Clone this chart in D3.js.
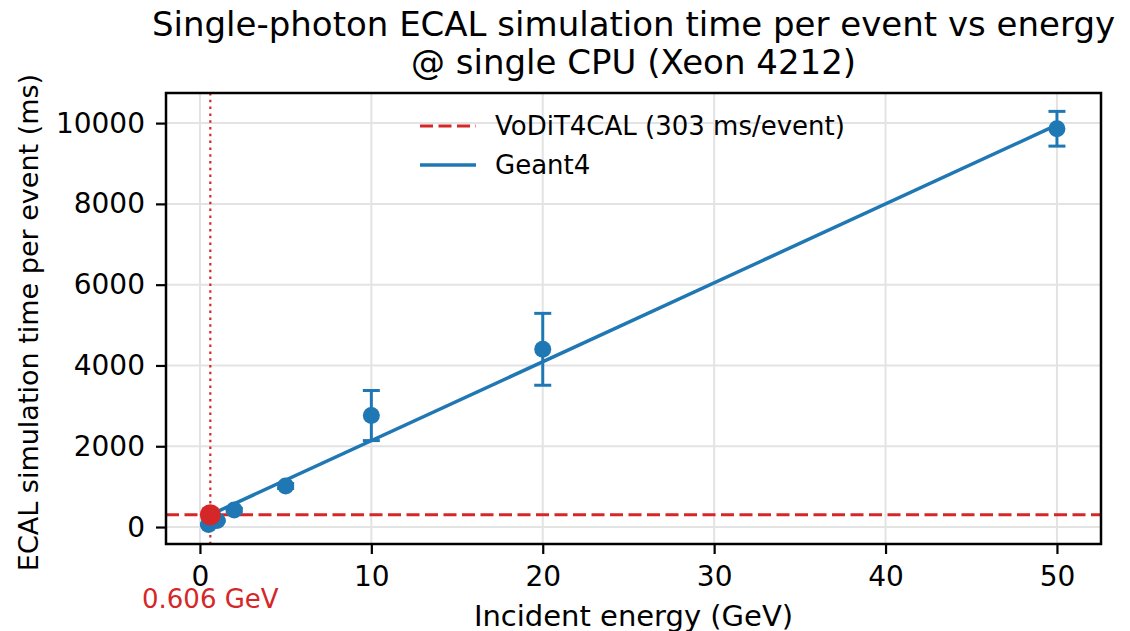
<!DOCTYPE html>
<html>
<head>
<meta charset="utf-8">
<script src="https://cdn.jsdelivr.net/npm/d3@7"></script>
<style>
  body { margin: 0; background: #fff; }
  text { font-family: "DejaVu Sans", sans-serif; }
</style>
</head>
<body>
<svg width="1130" height="631"></svg>
<script>
// data
const energies = [0.5, 1, 2, 5, 10, 20, 50];          // GeV
const times = [60, 160, 420, 1015, 2760, 4400, 9860];  // ms per event
const errors = [15, 25, 40, 60, 620, 890, 430];
const fitX = [0.5, 50];
const fitY = [282, 9954];
const vodiTime = 303;       // ms/event
const crossEnergy = 0.606;  // GeV
const xTicks = [0, 10, 20, 30, 40, 50];
const yTicks = [0, 2000, 4000, 6000, 8000, 10000];

const blue = '#1f77b4';
const red = '#d62728';

const svg = d3.select('svg');
const margin = {top: 93, right: 29, bottom: 87, left: 166};
const width = +svg.attr('width');
const height = +svg.attr('height');
const innerWidth = width - margin.left - margin.right;
const innerHeight = height - margin.top - margin.bottom;

const x = d3.scaleLinear().domain([-1.98, 52.57]).range([0, innerWidth]);
const y = d3.scaleLinear().domain([-420, 10745]).range([innerHeight, 0]);

const g = svg.append('g').attr('transform', `translate(${margin.left},${margin.top})`);

// clip for the stuff inside the axes
g.append('clipPath').attr('id', 'clip')
  .append('rect').attr('width', innerWidth).attr('height', innerHeight);

// grid
g.append('g').selectAll('line').data(xTicks).enter().append('line')
  .attr('x1', d => x(d)).attr('x2', d => x(d))
  .attr('y1', 0).attr('y2', innerHeight)
  .attr('stroke', '#e3e3e3').attr('stroke-width', 2);
g.append('g').selectAll('line').data(yTicks).enter().append('line')
  .attr('y1', d => y(d)).attr('y2', d => y(d))
  .attr('x1', 0).attr('x2', innerWidth)
  .attr('stroke', '#e3e3e3').attr('stroke-width', 2);

const plot = g.append('g').attr('clip-path', 'url(#clip)');

// VoDiT4CAL horizontal line
plot.append('line')
  .attr('x1', 0).attr('x2', innerWidth)
  .attr('y1', y(vodiTime)).attr('y2', y(vodiTime))
  .attr('stroke', red).attr('stroke-width', 3)
  .attr('stroke-dasharray', '13,5.5');

// vertical dotted line at crossing energy
plot.append('line')
  .attr('x1', x(crossEnergy)).attr('x2', x(crossEnergy))
  .attr('y1', 0).attr('y2', innerHeight)
  .attr('stroke', red).attr('stroke-width', 2.2)
  .attr('stroke-dasharray', '2.5,4.3');

// Geant4 fit line
const fitData = fitX.map((d, i) => ({x: d, y: fitY[i]}));
plot.append('path')
  .datum(fitData)
  .attr('fill', 'none')
  .attr('stroke', blue)
  .attr('stroke-width', 3.5)
  .attr('d', d3.line().x(d => x(d.x)).y(d => y(d.y)));

// error bars + points
const pts = energies.map((e, i) => ({e: e, t: times[i], err: errors[i]}));
const eb = plot.append('g').selectAll('g').data(pts).enter().append('g')
  .attr('stroke', blue).attr('stroke-width', 3);
eb.append('line')
  .attr('x1', d => x(d.e)).attr('x2', d => x(d.e))
  .attr('y1', d => y(d.t - d.err)).attr('y2', d => y(d.t + d.err));
eb.append('line')
  .attr('x1', d => x(d.e) - 8.5).attr('x2', d => x(d.e) + 8.5)
  .attr('y1', d => y(d.t + d.err)).attr('y2', d => y(d.t + d.err));
eb.append('line')
  .attr('x1', d => x(d.e) - 8.5).attr('x2', d => x(d.e) + 8.5)
  .attr('y1', d => y(d.t - d.err)).attr('y2', d => y(d.t - d.err));

plot.append('g').selectAll('circle').data(pts).enter().append('circle')
  .attr('cx', d => x(d.e)).attr('cy', d => y(d.t))
  .attr('r', 8.5).attr('fill', blue);

// crossing point
plot.append('circle')
  .attr('cx', x(crossEnergy)).attr('cy', y(vodiTime))
  .attr('r', 10.5).attr('fill', red);

// axes
const xAxis = g.append('g')
  .attr('transform', `translate(0,${innerHeight})`)
  .call(d3.axisBottom(x).tickValues(xTicks).tickSize(10).tickPadding(12));
const yAxis = g.append('g')
  .call(d3.axisLeft(y).tickValues(yTicks).tickFormat(d3.format('d')).tickSize(10).tickPadding(11));
[xAxis, yAxis].forEach(a => {
  a.select('.domain').remove();
  a.selectAll('.tick line').attr('stroke', '#000').attr('stroke-width', 2.2);
  a.selectAll('.tick text').attr('fill', '#000').style('font-size', '28px')
    .style('font-family', '"DejaVu Sans", sans-serif');
});

// frame
g.append('rect')
  .attr('width', innerWidth).attr('height', innerHeight)
  .attr('fill', 'none').attr('stroke', '#000').attr('stroke-width', 2.5);

// red energy label below the ticks
g.append('text')
  .attr('x', x(crossEnergy)).attr('y', 515)
  .attr('text-anchor', 'middle')
  .attr('fill', red).style('font-size', '26px')
  .text(crossEnergy + ' GeV');

// axis labels
g.append('text')
  .attr('x', innerWidth / 2).attr('y', 533)
  .attr('text-anchor', 'middle').style('font-size', '29px')
  .text('Incident energy (GeV)');
g.append('text')
  .attr('transform', `translate(${-128},${innerHeight / 2 + 4}) rotate(-90)`)
  .attr('text-anchor', 'middle').style('font-size', '27px')
  .text('ECAL simulation time per event (ms)');

// title
svg.append('text')
  .attr('x', margin.left + innerWidth / 2).attr('y', 36)
  .attr('text-anchor', 'middle').style('font-size', '34px')
  .text('Single-photon ECAL simulation time per event vs energy');
svg.append('text')
  .attr('x', margin.left + innerWidth / 2).attr('y', 74)
  .attr('text-anchor', 'middle').style('font-size', '34px')
  .text('@ single CPU (Xeon 4212)');

// legend
const legendItems = [
  {label: 'VoDiT4CAL (' + vodiTime + ' ms/event)', color: red, dash: '13,5.5', w: 3},
  {label: 'Geant4', color: blue, dash: null, w: 3.5}
];
const legend = g.append('g').attr('transform', 'translate(254,33)');
const li = legend.selectAll('g').data(legendItems).enter().append('g')
  .attr('transform', (d, i) => `translate(0,${i * 39})`);
li.append('line')
  .attr('x1', 0).attr('x2', 56)
  .attr('stroke', d => d.color).attr('stroke-width', d => d.w)
  .attr('stroke-dasharray', d => d.dash);
li.append('text')
  .attr('x', 75).attr('y', 9)
  .style('font-size', '26px')
  .text(d => d.label);
</script>
</body>
</html>
